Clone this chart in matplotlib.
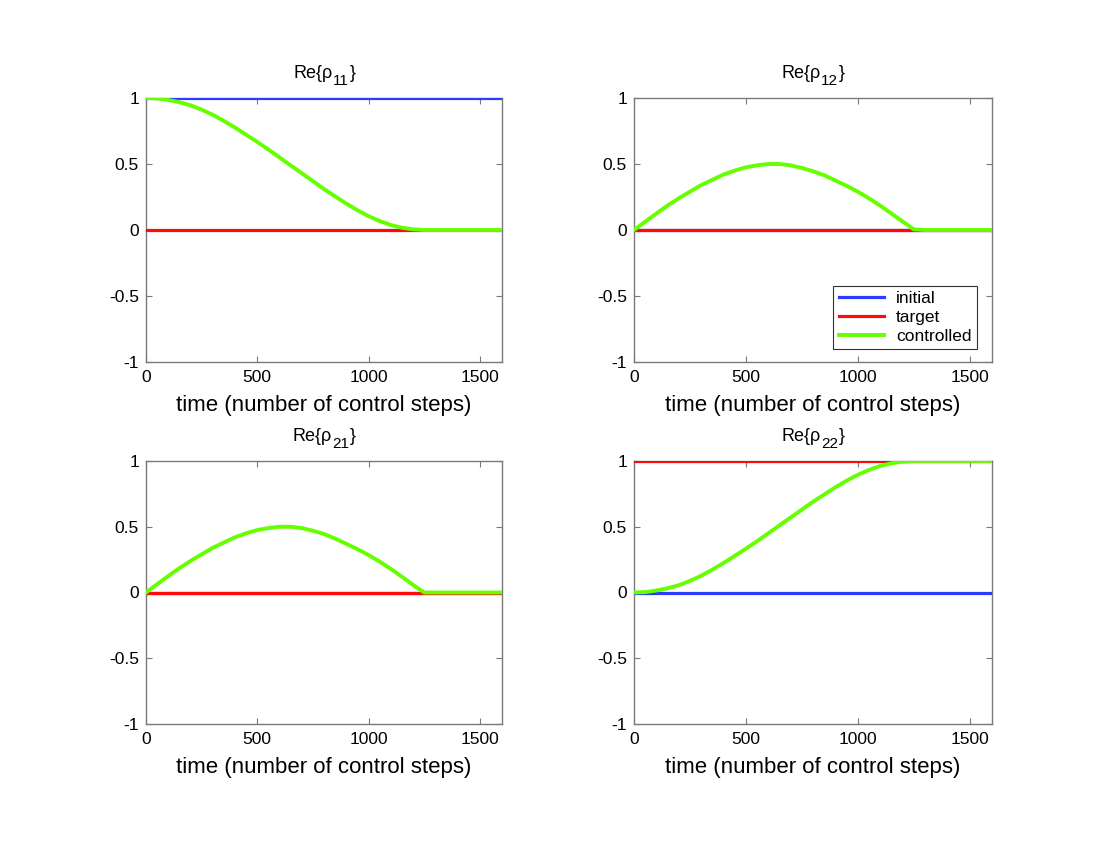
import matplotlib
matplotlib.use("Agg")
import matplotlib.pyplot as plt
import numpy as np

plt.rcParams['font.family'] = ['Liberation Sans', 'DejaVu Sans']
plt.rcParams['axes.unicode_minus'] = False

# ---- data ----
t = [0, 50, 100, 150, 200, 250, 300, 350, 400, 450, 500, 550, 600, 650, 700,
     750, 800, 850, 900, 950, 1000, 1050, 1100, 1150, 1200, 1250, 1300, 1350,
     1400, 1450, 1500, 1550, 1600]

rho11_ctrl = [1.0, 0.997, 0.985, 0.968, 0.945, 0.912, 0.873, 0.826, 0.776, 0.722,
              0.667, 0.61, 0.55, 0.49, 0.43, 0.37, 0.31, 0.255, 0.2, 0.15, 0.105,
              0.068, 0.038, 0.017, 0.005, 0.0, 0.0, 0.0, 0.0, 0.0, 0.0, 0.0, 0.0]
rho12_ctrl = [0.0, 0.063, 0.125, 0.185, 0.24, 0.29, 0.34, 0.38, 0.42, 0.45, 0.475,
              0.49, 0.5, 0.5, 0.49, 0.47, 0.445, 0.415, 0.375, 0.335, 0.29, 0.24,
              0.185, 0.125, 0.065, 0.005, 0.0, 0.0, 0.0, 0.0, 0.0, 0.0, 0.0]
rho21_ctrl = [0.0, 0.063, 0.125, 0.185, 0.24, 0.29, 0.34, 0.38, 0.42, 0.45, 0.475,
              0.49, 0.5, 0.5, 0.49, 0.47, 0.445, 0.41, 0.37, 0.33, 0.285, 0.235,
              0.18, 0.12, 0.058, 0.0, 0.0, 0.0, 0.0, 0.0, 0.0, 0.0, 0.0]
rho22_ctrl = [0.0, 0.003, 0.015, 0.032, 0.055, 0.088, 0.127, 0.174, 0.224, 0.278,
              0.333, 0.39, 0.45, 0.51, 0.57, 0.63, 0.69, 0.745, 0.8, 0.85, 0.895,
              0.932, 0.962, 0.983, 0.995, 1.0, 1.0, 1.0, 1.0, 1.0, 1.0, 1.0, 1.0]

initial_vals = [1, 0, 0, 0]
target_vals = [0, 0, 0, 1]
controlled = [rho11_ctrl, rho12_ctrl, rho21_ctrl, rho22_ctrl]
title_main = 'Re{ρ'
title_subs = ['11', '12', '21', '22']
title_close = '}'
xticks = [0, 500, 1000, 1500]
yticks = [-1, -0.5, 0, 0.5, 1]
ytick_labels = ['-1', '-0.5', '0', '0.5', '1']
xlabel = 'time (number of control steps)'
legend_labels = ['initial', 'target', 'controlled']

c_init = '#2a3cff'
c_targ = '#ff0a0a'
c_ctrl = '#66ff00'
spine_c = '#7a7a7a'

W, H = 1100, 850
fig = plt.figure(figsize=(W / 100, H / 100), dpi=100)
positions = [
    [146/W, 1-362/H, 356/W, 264/H],
    [634/W, 1-362/H, 358/W, 264/H],
    [146/W, 1-724/H, 356/W, 263/H],
    [634/W, 1-724/H, 358/W, 263/H],
]
renderer = fig.canvas.get_renderer()

for i in range(4):
    ax = fig.add_axes(positions[i])
    tt = np.array(t)
    ax.plot(tt, [initial_vals[i]] * len(tt), color=c_init, lw=2.3, zorder=3, label=legend_labels[0])
    ax.plot(tt, [target_vals[i]] * len(tt), color=c_targ, lw=2.3, zorder=3, label=legend_labels[1])
    ax.plot(tt, controlled[i], color=c_ctrl, lw=2.8, zorder=3, label=legend_labels[2])
    ax.set_xlim(0, 1600)
    ax.set_ylim(-1, 1)
    ax.set_xticks(xticks)
    ax.set_xticklabels([str(v) for v in xticks])
    ax.set_yticks(yticks)
    ax.set_yticklabels(ytick_labels)
    ax.tick_params(direction='in', top=True, right=True, length=4, width=0.8,
                   colors=spine_c, labelcolor='black', labelsize=12.5)
    ax.tick_params(axis='x', pad=6)
    ax.tick_params(axis='y', pad=5)
    for s in ax.spines.values():
        s.set_color(spine_c)
        s.set_linewidth(1.0)
    ax.set_xlabel(xlabel, fontsize=16, labelpad=7)

    # composite title with large subscript
    p = positions[i]
    cx = (p[0] + p[2] / 2) * W
    base = (p[1] + p[3]) * H + 20
    t1 = fig.text(0, 0, title_main, fontsize=13, ha='left', va='baseline')
    t2 = fig.text(0, 0, title_subs[i], fontsize=11, ha='left', va='baseline')
    t3 = fig.text(0, 0, title_close, fontsize=13, ha='left', va='baseline')
    w1 = t1.get_window_extent(renderer).width
    w2 = t2.get_window_extent(renderer).width
    w3 = t3.get_window_extent(renderer).width
    x0 = cx - (w1 + w2 + w3) / 2
    t1.set_position((x0 / W, base / H))
    t2.set_position(((x0 + w1) / W, (base - 7) / H))
    t3.set_position(((x0 + w1 + w2 + 1) / W, base / H))

    if i == 1:
        leg = ax.legend(loc='lower right', bbox_to_anchor=(0.957, 0.048), fontsize=12.5,
                        fancybox=False, framealpha=1, edgecolor='#333333',
                        handlelength=2.6, borderpad=0.3, labelspacing=0.22,
                        handletextpad=0.7, borderaxespad=0)
        leg.get_frame().set_linewidth(0.8)

fig.savefig('out.png', dpi=100)
